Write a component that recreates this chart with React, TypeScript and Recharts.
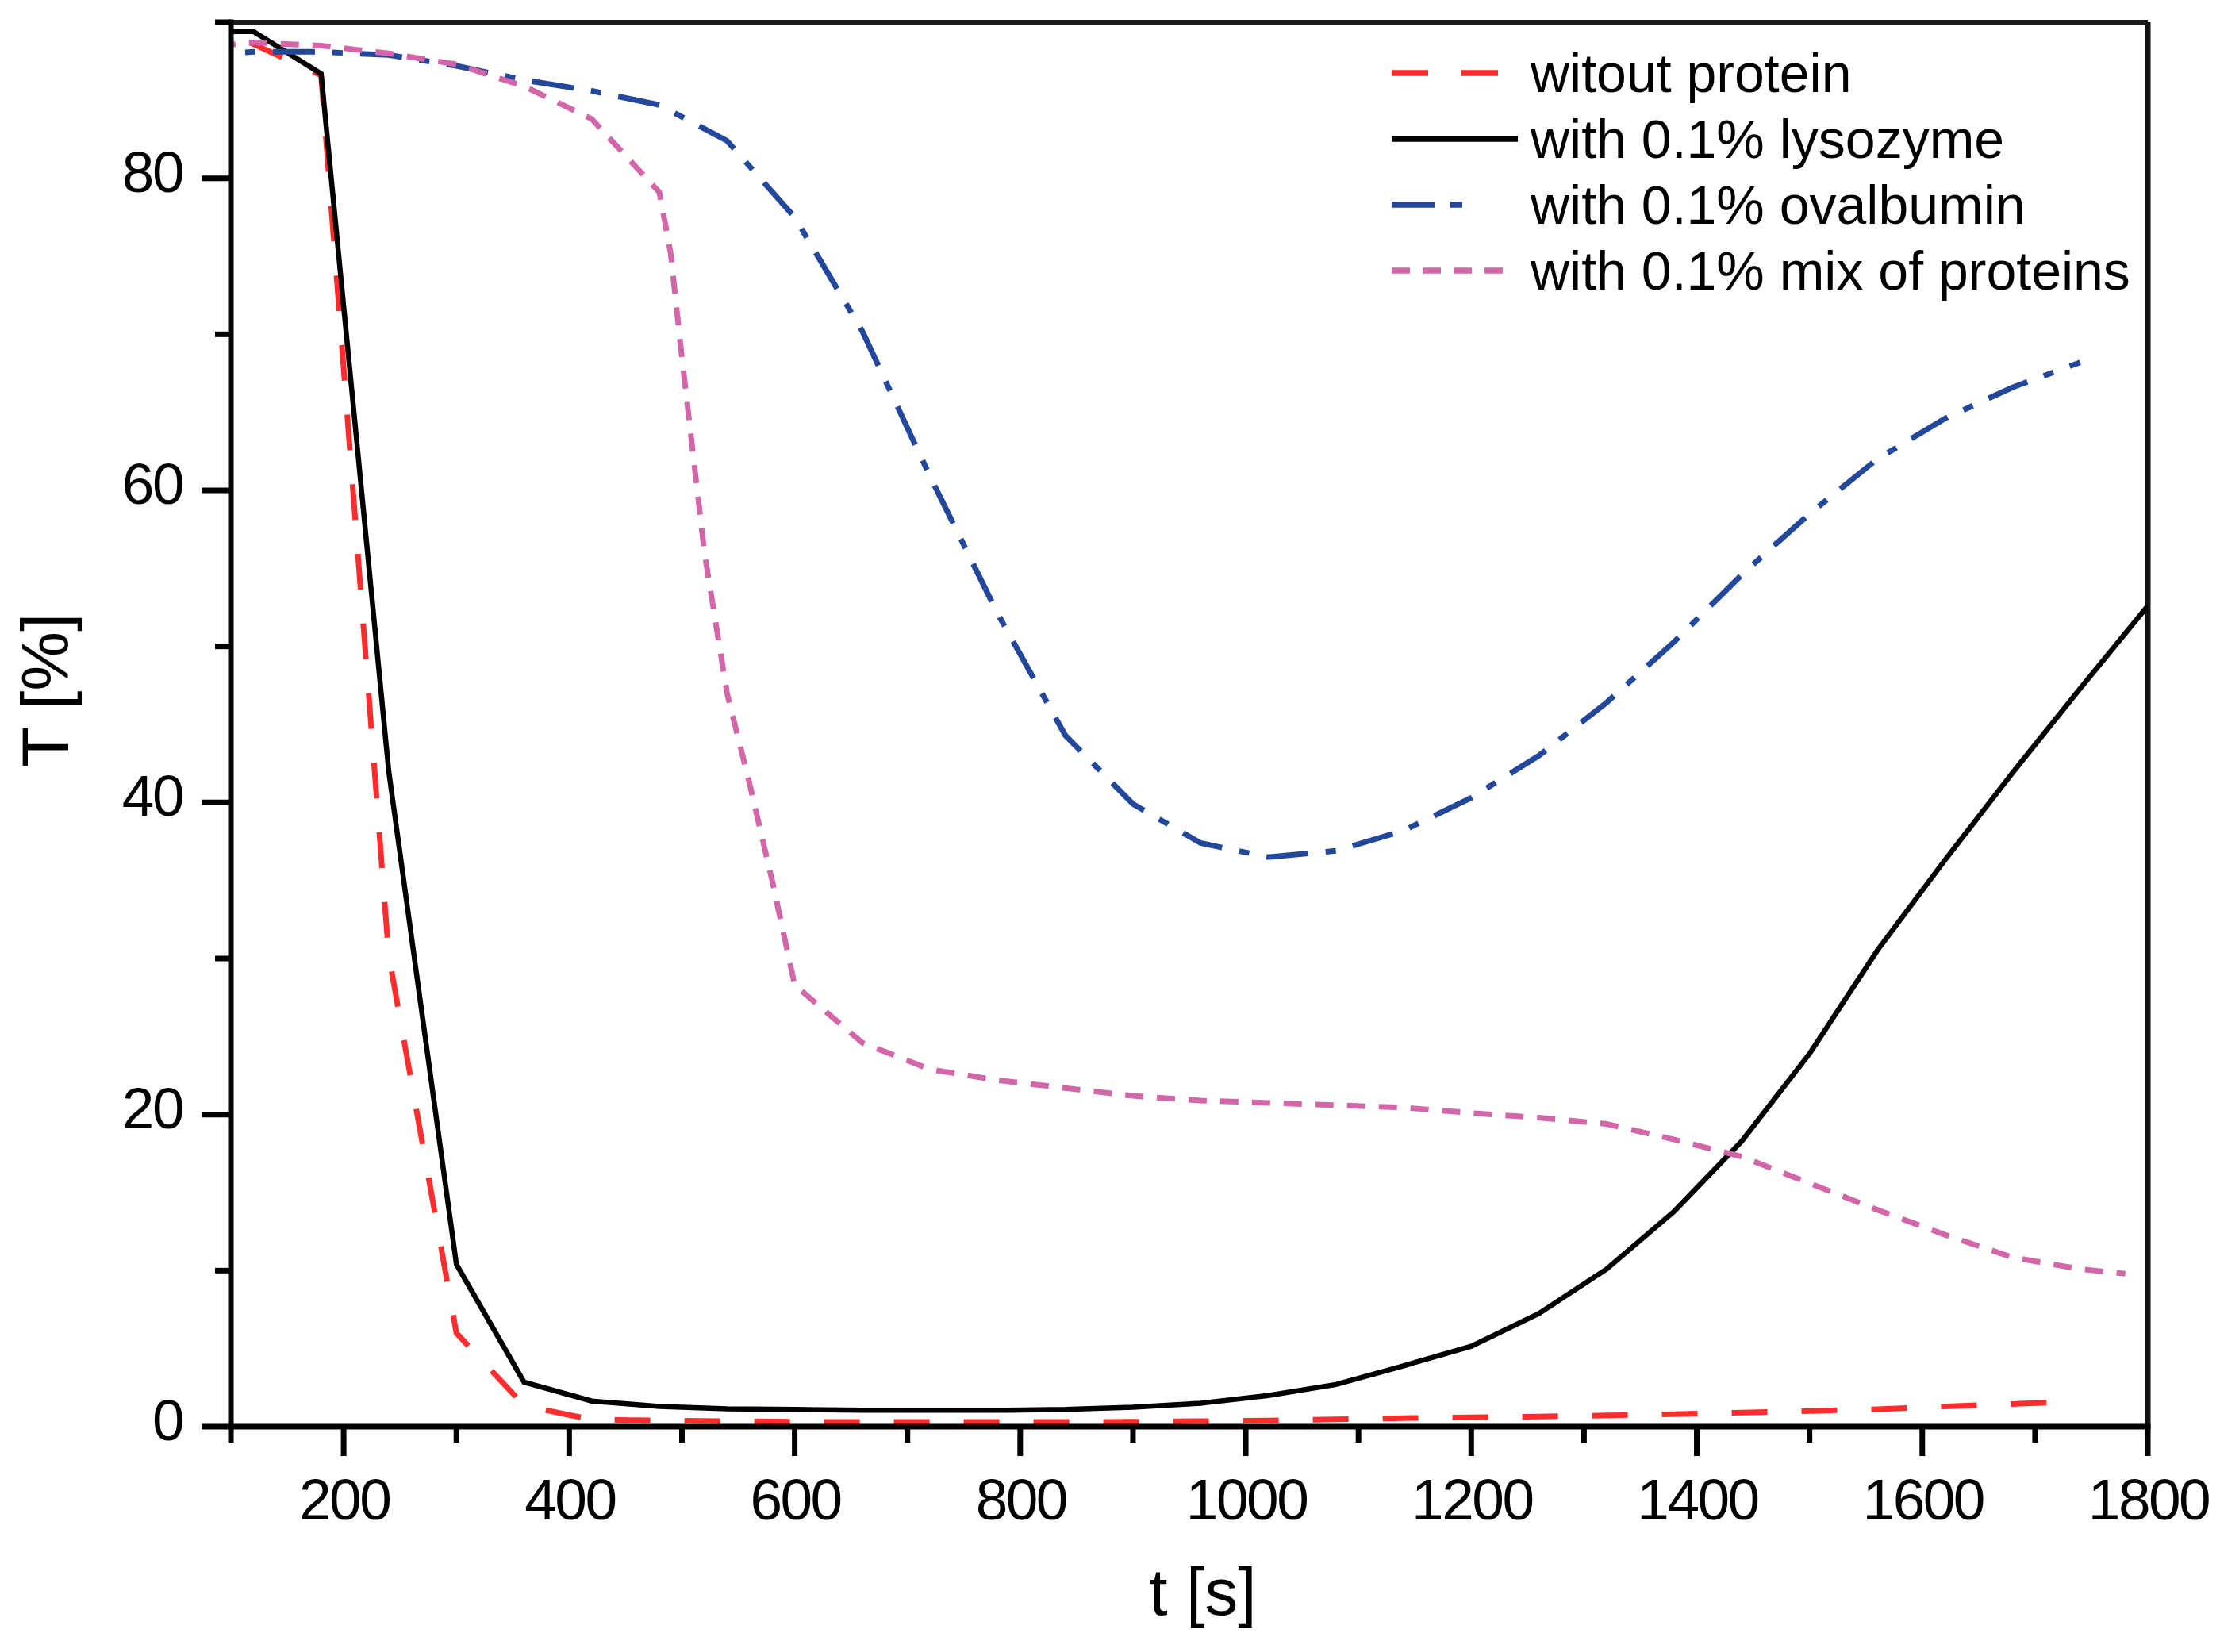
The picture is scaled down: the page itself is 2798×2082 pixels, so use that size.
import React from 'react';
import { LineChart, Line, XAxis, YAxis, ReferenceLine } from 'recharts';

// time points [s] shared by the 60 s measurement series
const times = [60, 120, 180, 240, 300, 360, 420, 480, 540, 600, 660, 720, 780, 840, 900,
  960, 1020, 1080, 1140, 1200, 1260, 1320, 1380, 1440, 1500, 1560, 1620, 1680, 1740, 1800];

// T [%] without protein (ends at 1740 s)
const withoutProtein = [90.5, 88.6, 86.6, 30.2, 6.0, 1.35, 0.45, 0.4, 0.35, 0.32, 0.3, 0.3, 0.3, 0.3, 0.32,
  0.35, 0.4, 0.47, 0.55, 0.6, 0.65, 0.72, 0.8, 0.9, 1.0, 1.12, 1.3, 1.45, 1.62];

// T [%] with 0.1% lysozyme
const lysozyme = [89.4, 89.4, 86.7, 42.0, 10.4, 2.85, 1.64, 1.3, 1.15, 1.1, 1.05, 1.05, 1.05, 1.1, 1.25,
  1.5, 2.0, 2.7, 3.9, 5.15, 7.25, 10.1, 13.8, 18.3, 23.9, 30.5, 36.3, 41.9, 47.3, 52.6];

// T [%] with 0.1% ovalbumin (ends at 1740 s)
const ovalbumin = [87.8, 88.1, 88.1, 87.9, 87.2, 86.3, 85.6, 84.7, 82.4, 77.5, 70.2, 60.9, 52.1, 44.3, 39.9,
  37.4, 36.5, 36.9, 38.2, 40.3, 43.0, 46.4, 50.3, 54.6, 58.5, 62.0, 64.6, 66.6, 68.2];

// T [%] with 0.1% mix of proteins
const mixTimes = [60, 120, 180, 240, 300, 360, 420, 480, 490, 500, 520, 540, 560, 580, 600, 660, 720, 780,
  840, 900, 960, 1020, 1080, 1140, 1200, 1260, 1320, 1380, 1440, 1500, 1560, 1620, 1680, 1740, 1780];
const mixProteins = [88.3, 88.7, 88.5, 88.0, 87.3, 85.9, 83.8, 79.1, 75.2, 68.5, 56.0, 47.0, 41.2, 35.0, 28.3,
  24.6, 22.9, 22.2, 21.7, 21.2, 20.9, 20.75, 20.6, 20.45, 20.1, 19.8, 19.4, 18.4, 17.3, 15.6, 13.9, 12.3,
  10.85, 10.1, 9.8];

const xTicks = [100, 200, 300, 400, 500, 600, 700, 800, 900, 1000, 1100, 1200, 1300, 1400, 1500, 1600, 1700, 1800];
const yTicks = [0, 10, 20, 30, 40, 50, 60, 70, 80, 90];

const toRows = (ts: number[], vs: number[]) => ts.map((t, i) => ({ t, v: vs[i] }));

const FONT = '"Liberation Sans", Arial, sans-serif';
const W = 2790;
const H = 2074;
const margin = { top: 20, right: 91, bottom: 134, left: 83 };
const Y_AXIS_W = 200;
const X_AXIS_H = 150;
const MAJOR = 37;
const MINOR = 20;
const TICK_FONT = 73;

const series = [
  { name: 'witout protein', data: toRows(times.slice(0, withoutProtein.length), withoutProtein), color: '#fd2d2d', dash: '45 43', width: 7, legendEnd: 134 },
  { name: 'with 0.1% lysozyme', data: toRows(times, lysozyme), color: '#000000', dash: undefined, width: 6.5, legendEnd: 159 },
  { name: 'with 0.1% ovalbumin', data: toRows(times.slice(0, ovalbumin.length), ovalbumin), color: '#22479b', dash: '53 22 13 22', width: 7, legendEnd: 89 },
  { name: 'with 0.1% mix of proteins', data: toRows(mixTimes, mixProteins), color: '#d366a9', dash: '23 17', width: 7, legendEnd: 143 },
];

const legendDash = ['46 42', undefined, '54 20 15 100', '23 16'];

const XTick = (props: any) => {
  const { x, y, payload } = props;
  const major = payload.value % 200 === 0;
  const axisY = y - MAJOR - 29;
  return (
    <g>
      <line x1={x} x2={x} y1={axisY} y2={axisY + (major ? MAJOR : MINOR)} stroke="#000" strokeWidth={7} />
      {major && (
        <text
          x={x + 1}
          y={axisY + 117}
          textAnchor="middle"
          fontSize={TICK_FONT}
          letterSpacing={-2.5}
          fontFamily={FONT}
          fill="#000"
        >
          {payload.value}
        </text>
      )}
    </g>
  );
};

const YTick = (props: any) => {
  const { x, y, payload } = props;
  const major = payload.value % 20 === 0 && payload.value < 90;
  const axisX = x + MAJOR + 26;
  return (
    <g>
      <line x1={axisX - (major ? MAJOR : MINOR)} x2={axisX} y1={y} y2={y} stroke="#000" strokeWidth={7} />
      {major && (
        <text
          x={x + 2}
          y={y + 17}
          textAnchor="end"
          fontSize={TICK_FONT}
          letterSpacing={-2.5}
          fontFamily={FONT}
          fill="#000"
        >
          {payload.value}
        </text>
      )}
    </g>
  );
};

const plotLeft = margin.left + Y_AXIS_W;
const plotRight = W - margin.right;

export default function App() {
  const legendX = 1746;
  const legendY0 = 84;
  const legendStep = 83;
  return (
    <div style={{ position: 'relative', width: W, height: H, background: '#fff' }}>
      <LineChart width={W} height={H} margin={margin}>
        <XAxis
          dataKey="t"
          type="number"
          domain={[100, 1800]}
          allowDataOverflow
          ticks={xTicks}
          interval={0}
          height={X_AXIS_H}
          tickSize={MAJOR}
          tickMargin={29}
          tickLine={false}
          tick={<XTick />}
          axisLine={{ stroke: '#000', strokeWidth: 7, strokeLinecap: 'square' }}
        />
        <YAxis
          type="number"
          domain={[0, 90]}
          allowDataOverflow
          ticks={yTicks}
          interval={0}
          width={Y_AXIS_W}
          tickSize={MAJOR}
          tickMargin={26}
          tickLine={false}
          tick={<YTick />}
          axisLine={{ stroke: '#000', strokeWidth: 7, strokeLinecap: 'square' }}
        />
        <ReferenceLine y={90} stroke="#1a1a1a" strokeWidth={6} />
        <ReferenceLine x={1800} stroke="#111" strokeWidth={7} />
        {series.map((s) => (
          <Line
            key={s.name}
            data={s.data}
            dataKey="v"
            name={s.name}
            type="linear"
            stroke={s.color}
            strokeWidth={s.width}
            strokeDasharray={s.dash}
            dot={false}
            activeDot={false}
            isAnimationActive={false}
          />
        ))}
      </LineChart>
      <svg
        width={W}
        height={H}
        style={{ position: 'absolute', left: 0, top: 0, pointerEvents: 'none' }}
      >
        <text
          x={(plotLeft + plotRight) / 2 + 17}
          y={2027}
          textAnchor="middle"
          fontSize={84}
          fontFamily={FONT}
          fill="#000"
        >
          t [s]
        </text>
        <text
          x={78}
          y={862}
          transform="rotate(-90, 78, 862)"
          textAnchor="middle"
          fontSize={84}
          fontFamily={FONT}
          fill="#000"
        >
          T [%]
        </text>
        {series.map((s, i) => {
          const cy = legendY0 + i * legendStep;
          return (
            <g key={s.name}>
              <line
                x1={legendX}
                x2={legendX + s.legendEnd}
                y1={cy}
                y2={cy}
                stroke={s.color}
                strokeWidth={7.5}
                strokeDasharray={legendDash[i]}
              />
              <text x={1921} y={cy + 24} fontSize={68} fontFamily={FONT} fill="#000">
                {s.name}
              </text>
            </g>
          );
        })}
      </svg>
    </div>
  );
}
